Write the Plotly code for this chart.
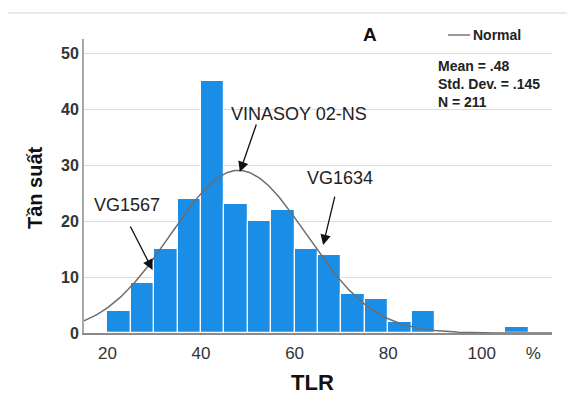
import numpy as np
import plotly.graph_objects as go

# Data (bin width 5 %)
bin_starts = [20, 25, 30, 35, 40, 45, 50, 55, 60, 65, 70, 75, 80, 85, 105]
counts = [4, 9, 15, 24, 45, 23, 20, 22, 15, 14, 7, 6, 2, 4, 1]
BIN_W = 5
MEAN, SD, N = 48.0, 14.5, 211

x_tickvals = [20, 40, 60, 80, 100, 111]
x_ticktext = ["20", "40", "60", "80", "100", "%"]
y_tickvals = [0, 10, 20, 30, 40, 50]

centers = [s + BIN_W / 2 for s in bin_starts]

# Fitted normal curve (from stated mean / sd / N)
xc = np.linspace(15, 115, 301)
yc = N * BIN_W / (SD * np.sqrt(2 * np.pi)) * np.exp(-0.5 * ((xc - MEAN) / SD) ** 2)

fig = go.Figure()
fig.add_trace(go.Bar(x=centers, y=counts, width=BIN_W,
                     marker=dict(color="#1a8de6", line=dict(color="white", width=1.2)),
                     showlegend=False, hoverinfo="skip"))
fig.add_trace(go.Scatter(x=xc, y=yc, mode="lines",
                         line=dict(color="#6e6e6e", width=1.5),
                         showlegend=False, hoverinfo="skip"))

FONT = "Liberation Sans, Arial, sans-serif"
OFF = 8  # page body margin
FW, FH = 575 - OFF, 398 - OFF
L, T, W, H = 84, 39, 468, 294  # plot area in page pixels


def px(xp):
    return (xp - L) / W


def py(yp):
    return (T + H - yp) / H


fig.update_layout(
    width=FW, height=FH,
    margin=dict(l=L - OFF, r=FW - (L - OFF) - W, t=T - OFF, b=FH - (T - OFF) - H),
    paper_bgcolor="white", plot_bgcolor="white",
    font=dict(family=FONT, color="#222"),
    bargap=0,
    xaxis=dict(range=[15, 115], tickvals=x_tickvals, ticktext=x_ticktext, automargin=False,
               tickfont=dict(size=17, color="#333"), showgrid=False, zeroline=False,
               showline=True, linecolor="#8a8a8a", linewidth=1.5, ticks="",
               ticklabelstandoff=4),
    yaxis=dict(range=[0, 52.5], tickvals=y_tickvals, automargin=False,
               ticktext=["<b>%d</b>" % v for v in y_tickvals],
               tickfont=dict(size=16, color="#333"), showgrid=True, gridcolor="#dcdcdc",
               gridwidth=1, zeroline=False, showline=True, linecolor="#a8a8a8",
               linewidth=2, ticks="", ticklabelstandoff=0),
)

# axis titles
fig.add_annotation(xref="paper", yref="paper", x=px(312), y=py(382), text="<b>TLR</b>",
                   showarrow=False, font=dict(size=22, color="#111"),
                   xanchor="center", yanchor="middle")
fig.add_annotation(xref="paper", yref="paper", x=px(35), y=py(188), text="<b>Tần suất</b>",
                   showarrow=False, textangle=-90, font=dict(size=20, color="#111"),
                   xanchor="center", yanchor="middle")

# frame of the original figure
fig.add_shape(type="rect", xref="paper", yref="paper",
              x0=px(6), x1=px(590), y0=py(410), y1=py(13),
              line=dict(color="#e2e2e2", width=1.5), fillcolor="rgba(0,0,0,0)", layer="below")

# panel letter
fig.add_annotation(xref="paper", yref="paper", x=px(370), y=py(34),
                   text="<b>A</b>", showarrow=False, font=dict(size=19, color="#111"),
                   xanchor="center", yanchor="middle")
# legend
fig.add_shape(type="line", xref="paper", yref="paper",
              x0=px(448), x1=px(470), y0=py(35), y1=py(35),
              line=dict(color="#555", width=1.2))
fig.add_annotation(xref="paper", yref="paper", x=px(471), y=py(35),
                   text="<b>Normal</b>", showarrow=False, font=dict(size=14, color="#222"),
                   xanchor="left", yanchor="middle")
# stats
fig.add_annotation(xref="paper", yref="paper", x=px(436), y=py(56),
                   text="<b>Mean = .48<br>Std. Dev. = .145<br>N = 211</b>", showarrow=False,
                   align="left", font=dict(size=14, color="#222"),
                   xanchor="left", yanchor="top")

# cultivar callouts
labels = [
    ("VINASOY 02-NS", 61.0, 39.1, 48.3, 28.75, 17, -49),
    ("VG1567", 24.2, 22.9, 29.66, 11.25, -23, -45),
    ("VG1634", 69.6, 27.7, 66.1, 15.7, 12, -50),
]
for txt, tx, ty, ptx, pty, ax, ay in labels:
    fig.add_annotation(x=tx, y=ty, text=txt, showarrow=False,
                       font=dict(size=18, color="#222"), xanchor="center", yanchor="middle")
    fig.add_annotation(x=ptx, y=pty, ax=ax, ay=ay, text="", showarrow=True,
                       arrowhead=2, arrowsize=1.6, arrowwidth=1.3, arrowcolor="#111")

fig.write_html("out.html")
